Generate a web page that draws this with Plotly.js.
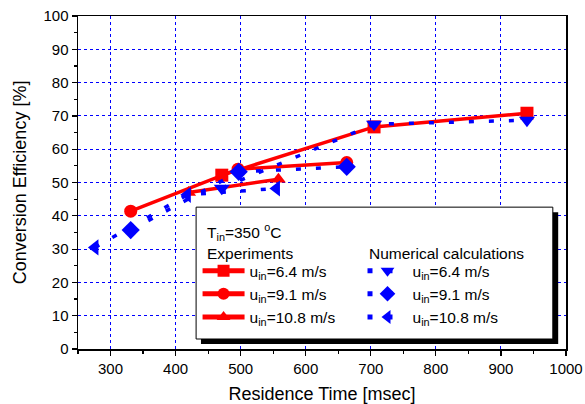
<!DOCTYPE html>
<html>
<head>
<meta charset="utf-8">
<script src="https://cdn.plot.ly/plotly-3.0.1.min.js"></script>
<style>html,body{margin:0;padding:0;background:#fff;}#chart{width:585px;height:404px;}</style>
</head>
<body>
<div id="chart"></div>
<script>
// Experiments
var expX_64 = [471, 705, 940];
var expY_64 = [52.2, 66.7, 70.8];
var expX_91 = [331, 496, 663];
var expY_91 = [41.4, 54.0, 56.0];
var expX_108 = [420, 558];
var expY_108 = [47.0, 51.0];
// Numerical calculations
var calX_64 = [471, 705, 940];
var calY_64 = [48.3, 67.5, 68.7];
var calX_91 = [331, 497, 663];
var calY_91 = [35.7, 53.2, 54.7];
var calX_108 = [276, 418, 555];
var calY_108 = [30.5, 46.3, 48.2];

var labels = ['u<sub>in</sub>=6.4 m/s', 'u<sub>in</sub>=9.1 m/s', 'u<sub>in</sub>=10.8 m/s'];
var xTicks = [300, 400, 500, 600, 700, 800, 900, 1000];
var yTicks = [0, 10, 20, 30, 40, 50, 60, 70, 80, 90, 100];

var RED = '#ff0000', BLUE = '#0000ff';
var FONT = 'Arial, "Liberation Sans", sans-serif';

function expTrace(x, y, sym, name) {
  return {x: x, y: y, name: name, type: 'scatter', mode: 'lines+markers',
    line: {color: RED, width: 3.5},
    marker: {symbol: sym, size: 13, color: RED},
    legend: 'legend'};
}
function calTrace(x, y, sym, name) {
  return {x: x, y: y, name: name, type: 'scatter', mode: 'lines+markers',
    line: {color: BLUE, width: 3.5, dash: '5px,15px'},
    marker: {symbol: sym, size: 14, color: BLUE},
    legend: 'legend2'};
}

var data = [
  expTrace(expX_64, expY_64, 'square', labels[0]),
  expTrace(expX_91, expY_91, 'circle', labels[1]),
  expTrace(expX_108, expY_108, 'triangle-up', labels[2]),
  calTrace(calX_64, calY_64, 'triangle-down', labels[0]),
  calTrace(calX_91, calY_91, 'diamond', labels[1]),
  calTrace(calX_108, calY_108, 'triangle-left', labels[2])
];

var axisCommon = {
  showline: true, linecolor: '#000', linewidth: 1.5, mirror: true,
  zeroline: false, ticks: 'outside', ticklen: 5, tickwidth: 1.2, tickcolor: '#000',
  showgrid: true, gridcolor: BLUE, griddash: 'dot', gridwidth: 1,
  tickfont: {family: FONT, size: 15, color: '#000'}
};

var layout = {
  width: 585, height: 404,
  margin: {l: 78, r: 19, t: 16, b: 55},
  paper_bgcolor: '#fff', plot_bgcolor: '#fff',
  font: {family: FONT, color: '#000'},
  showlegend: true,
  xaxis: Object.assign({}, axisCommon, {
    range: [250, 1000], tickvals: xTicks,
    minor: {dtick: 50, tick0: 0, ticks: 'outside', ticklen: 3, tickcolor: '#000', showgrid: false},
    title: {text: 'Residence Time [msec]', font: {family: FONT, size: 18}, standoff: 14}
  }),
  yaxis: Object.assign({}, axisCommon, {
    range: [0, 100], tickvals: yTicks,
    minor: {dtick: 5, tick0: 0, ticks: 'outside', ticklen: 3, tickcolor: '#000', showgrid: false},
    title: {text: 'Conversion Efficiency [%]', font: {family: FONT, size: 18}, standoff: 12}
  }),
  legend: {x: 0.245, y: 0.285, xanchor: 'left', yanchor: 'top', bgcolor: 'rgba(0,0,0,0)',
    borderwidth: 0, itemwidth: 42, itemsizing: 'constant', tracegroupgap: 0,
    font: {family: FONT, size: 15.5, color: '#000'}},
  legend2: {x: 0.583, y: 0.285, xanchor: 'left', yanchor: 'top', bgcolor: 'rgba(0,0,0,0)',
    borderwidth: 0, itemwidth: 40, itemsizing: 'constant', tracegroupgap: 0,
    font: {family: FONT, size: 15.5, color: '#000'}},
  shapes: [
    {type: 'rect', xref: 'paper', yref: 'paper', x0: 0.252, x1: 0.984, y0: 0.015, y1: 0.411,
      fillcolor: '#000', line: {width: 0}, layer: 'above'},
    {type: 'rect', xref: 'paper', yref: 'paper', x0: 0.242, x1: 0.973, y0: 0.030, y1: 0.426,
      fillcolor: '#fff', line: {color: '#000', width: 1}, layer: 'above'}
  ],
  annotations: [
    {xref: 'paper', yref: 'paper', x: 0.26, y: 0.352, xanchor: 'left', yanchor: 'middle', showarrow: false,
      text: 'T<sub>in</sub>=350 <sup>o</sup>C', font: {family: FONT, size: 15.5, color: '#000'}},
    {xref: 'paper', yref: 'paper', x: 0.26, y: 0.287, xanchor: 'left', yanchor: 'middle', showarrow: false,
      text: 'Experiments', font: {family: FONT, size: 15.5, color: '#000'}},
    {xref: 'paper', yref: 'paper', x: 0.592, y: 0.287, xanchor: 'left', yanchor: 'middle', showarrow: false,
      text: 'Numerical calculations', font: {family: FONT, size: 15.5, color: '#000'}}
  ]
};

Plotly.newPlot('chart', data, layout, {displayModeBar: false, staticPlot: true});
</script>
</body>
</html>
